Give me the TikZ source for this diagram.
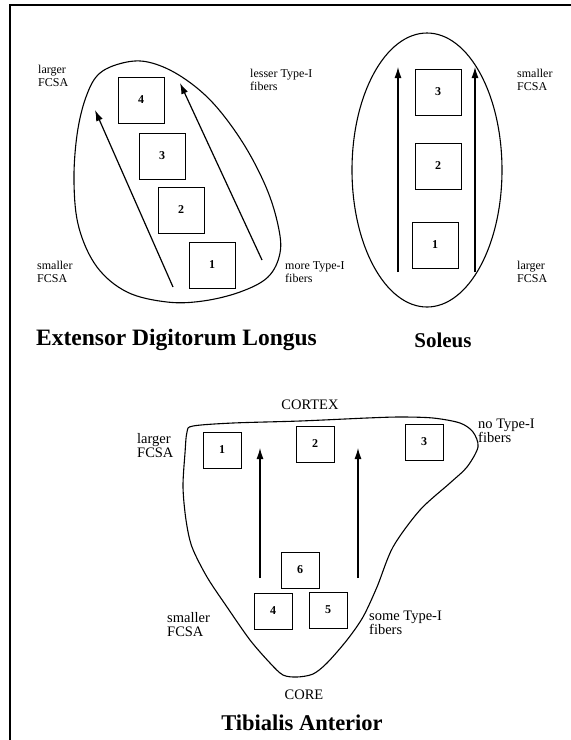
\documentclass[tikz,border=0pt]{standalone}
\usepackage{fontspec}
\setmainfont{Liberation Serif}
\usetikzlibrary{arrows.meta}
\begin{document}
\begin{tikzpicture}[x=1pt,y=-1pt,
 box/.style={draw, line width=0.9pt, minimum width=46pt, minimum height=46pt, font=\fontsize{12}{12}\selectfont\bfseries, inner sep=0pt},
 sbox/.style={box, minimum width=38pt, minimum height=36pt},
 lbl/.style={anchor=west, align=left, font=\fontsize{12}{12.5}\selectfont, inner sep=0pt},
 blbl/.style={anchor=west, align=left, font=\fontsize{14.5}{14}\selectfont, inner sep=0pt},
 ttl/.style={font=\fontsize{21}{24}\selectfont\bfseries, inner sep=0pt},
 arr/.style={line width=1.2pt, -{Latex[length=11pt,width=7pt]}},
 outline/.style={line width=1.1pt}]
\useasboundingbox (0,0) rectangle (571,740);
\draw[line width=1.8pt] (10,740) -- (10,5) -- (571,5);

% ---------- Extensor Digitorum Longus ----------
\draw[outline] plot[smooth cycle, tension=0.6] coordinates {
 (127,62) (100,73) (86,97) (77,135) (74,183) (79,228) (97,267) (127,292)
 (167,302) (203,301) (240,292) (268,277) (280,253) (278,225) (266,187)
 (243,143) (213,103) (182,77) (152,63)};
\node[box] (e4) at (141,100) {4};
\node[box] (e3) at (162,156) {3};
\node[box] (e2) at (181,210) {2};
\node[box] (e1) at (212,265) {1};
\coordinate (ea1s) at (173,287);
\coordinate (ea1e) at (95,110);
\coordinate (ea2s) at (262,260);
\coordinate (ea2e) at (180,83);
\draw[arr] (ea1s) -- (ea1e);
\draw[arr] (ea2s) -- (ea2e);
\node[lbl] (el1) at (38,76) {larger\\FCSA};
\node[lbl] (el2) at (250,80) {lesser Type-I\\fibers};
\node[lbl] (el3) at (37,272) {smaller\\FCSA};
\node[lbl] (el4) at (285,272) {more Type-I\\fibers};
\node[ttl, font=\fontsize{23.5}{26}\selectfont\bfseries] (et) at (176.5,340) {Extensor Digitorum Longus};

% ---------- Soleus ----------
\draw[outline] (427,170) ellipse [x radius=75, y radius=137];
\node[box] (s3) at (438,92) {3};
\node[box] (s2) at (438,166) {2};
\node[box] (s1) at (435,245) {1};
\coordinate (sa1s) at (398,272);
\coordinate (sa1e) at (398,67);
\coordinate (sa2s) at (475,272);
\coordinate (sa2e) at (475,67);
\draw[arr] (sa1s) -- (sa1e);
\draw[arr] (sa2s) -- (sa2e);
\node[lbl] (sl1) at (517,80) {smaller\\FCSA};
\node[lbl] (sl2) at (517,272) {larger\\FCSA};
\node[ttl] (st) at (443,340) {Soleus};

% ---------- Tibialis Anterior ----------
\draw[outline] plot[smooth cycle, tension=0.5] coordinates {
 (193,426) (233,423) (300,421) (367,418) (400,417) (433,418) (460,423)
 (473,432) (478,447) (467,467) (450,483) (420,510) (393,547) (377,587)
 (363,617) (347,640) (327,663) (313,674) (297,677) (283,675) (270,663)
 (250,640) (227,607) (207,577) (192,547) (186,520) (183,487) (185,453) (187,432)};
\node[sbox] (t1) at (222,450) {1};
\node[sbox] (t2) at (315,444) {2};
\node[sbox] (t3) at (424,442) {3};
\node[sbox] (t6) at (300,570) {6};
\node[sbox] (t4) at (273,611) {4};
\node[sbox] (t5) at (328,610) {5};
\coordinate (ta1s) at (260,578);
\coordinate (ta1e) at (260,448);
\coordinate (ta2s) at (358,578);
\coordinate (ta2e) at (358,448);
\draw[arr] (ta1s) -- (ta1e);
\draw[arr] (ta2s) -- (ta2e);
\node[blbl, anchor=center] (tcx) at (310,405) {CORTEX};
\node[blbl, anchor=center] (tco) at (304,695) {CORE};
\node[blbl] (tl1) at (137,446) {larger\\FCSA};
\node[blbl] (tl2) at (478,431) {no Type-I\\fibers};
\node[blbl] (tl3) at (167,625) {smaller\\FCSA};
\node[blbl] (tl4) at (369,623) {some Type-I\\fibers};
\node[ttl, font=\fontsize{22.5}{25}\selectfont\bfseries] (tt) at (302,723) {Tibialis Anterior};
\end{tikzpicture}
\end{document}
